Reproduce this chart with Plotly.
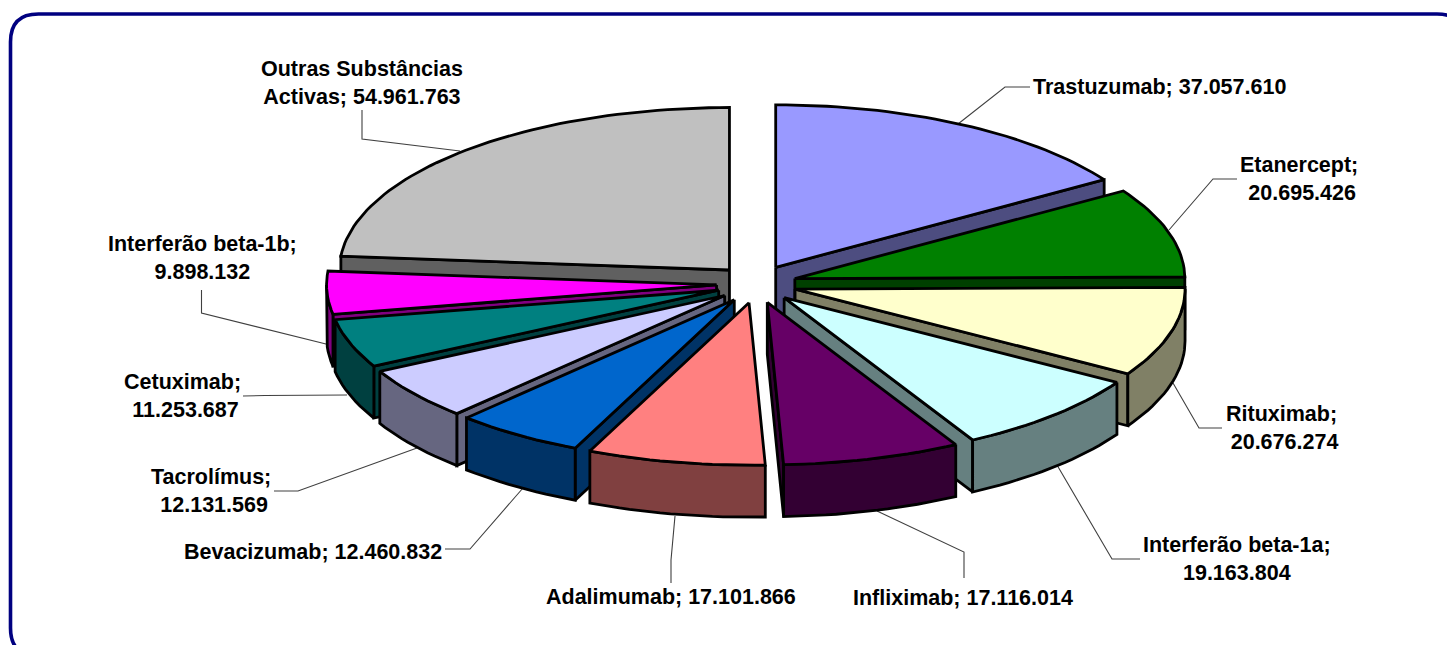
import math
import plotly.graph_objects as go

# ---- data (clockwise from 12 o'clock) ----
names = ["Trastuzumab", "Etanercept", "Rituximab", "Interferão beta-1a", "Infliximab",
         "Adalimumab", "Bevacizumab", "Tacrolímus", "Cetuximab", "Interferão beta-1b",
         "Outras Substâncias Activas"]
values = [37057610, 20695426, 20676274, 19163804, 17116014, 17101866,
          12460832, 12131569, 11253687, 9898132, 54961763]
top_colors = ["#9999FF", "#008000", "#FFFFCC", "#CCFFFF", "#660066", "#FF8080",
              "#0066CC", "#CCCCFF", "#008080", "#FF00FF", "#C0C0C0"]
wall_colors = ["#4D4D80", "#004000", "#808066", "#668080", "#330033", "#804040",
               "#003366", "#666680", "#004040", "#800080", "#606060"]

# label layout: text lines, anchor position in page pixels
label_lines = [
    ["{n}; {v}"], ["{n};&nbsp;", "{v}"], ["{n};&nbsp;", "{v}"], ["{n};", "{v}"], ["{n}; {v}"],
    ["{n}; {v}"], ["{n}; {v}"], ["{n};&nbsp;", "{v}"], ["{n};&nbsp;", "{v}"], ["{n};", "{v}"],
    ["Outras Substâncias", "Activas; {v}"],
]
label_pos = [(1159, 87), (1301.5, 179), (1284, 428), (1236.5, 559), (963, 598), (671, 597),
             (313, 552), (214, 491), (185, 395.5), (202, 257.5), (362, 83)]
leaders = [
    [(958, 124), (1005, 87), (1030, 87)],
    [(1169, 230), (1213, 179), (1237, 179)],
    [(1173, 383), (1199, 428), (1222, 428)],
    [(1057, 465), (1112, 559), (1140, 559)],
    [(877, 511), (964, 552), (964, 578)],
    [(675, 516), (671, 560), (671, 583)],
    [(523, 488), (470, 549), (445, 549)],
    [(417, 448), (298, 491), (274, 491)],
    [(347, 395), (265, 395.5), (243, 396)],
    [(328, 344.5), (201.5, 313), (201.5, 290)],
    [(460, 151), (362, 139), (362, 110)],
]

# ---- projection of the tilted pie ----
CX, CY = 756.5, 284
RX, RY = 390, 162.5
DEPTH = 52
EXPLODE_X, EXPLODE_Y = 40, 19
total = sum(values)


def proj(theta):
    return RX * math.sin(theta), -RY * math.cos(theta)


slices = []
cum = 0
for i, v in enumerate(values):
    t0 = cum / total * 2 * math.pi
    cum += v
    t1 = cum / total * 2 * math.pi
    mid = (t0 + t1) / 2
    slices.append(dict(i=i, t0=t0, t1=t1, mid=mid,
                       ax=CX + EXPLODE_X * math.sin(mid),
                       ay=CY - EXPLODE_Y * math.cos(mid)))


def arc(s, a, b):
    n = max(3, int((b - a) / math.radians(1.5)))
    pts = []
    for k in range(n + 1):
        t = a + (b - a) * k / n
        dx, dy = proj(t)
        pts.append((s["ax"] + dx, s["ay"] + dy))
    return pts


fig = go.Figure()


def poly(pts, color):
    xs = [p[0] for p in pts] + [pts[0][0]]
    ys = [p[1] for p in pts] + [pts[0][1]]
    fig.add_trace(go.Scatter(x=xs, y=ys, mode="lines", fill="toself", fillcolor=color,
                             line=dict(color="black", width=2.8), hoverinfo="skip",
                             showlegend=False))


for s in sorted(slices, key=lambda q: -math.cos(q["mid"])):
    i = s["i"]
    a = (s["ax"], s["ay"])
    top = [a] + arc(s, s["t0"], s["t1"])
    cx = sum(p[0] for p in top) / len(top)
    cy = sum(p[1] for p in top) / len(top)
    for t in (s["t0"], s["t1"]):
        dx, dy = proj(t)
        p = (a[0] + dx, a[1] + dy)
        side_c = dx * (cy - a[1]) - dy * (cx - a[0])
        side_d = dx * DEPTH
        if side_c * side_d < 0:  # wall faces the viewer
            poly([a, p, (p[0], p[1] + DEPTH), (a[0], a[1] + DEPTH)], wall_colors[i])
    lo = max(s["t0"], math.pi / 2)
    hi = min(s["t1"], 3 * math.pi / 2)
    if hi > lo:
        edge = arc(s, lo, hi)
        poly(edge + [(x, y + DEPTH) for x, y in reversed(edge)], wall_colors[i])
    poly(top, top_colors[i])

# ---- labels ----
for n, v, lines, (lx, ly) in zip(names, values, label_lines, label_pos):
    vs = f"{v:,}".replace(",", ".")
    text = "<br>".join("<b>" + l.format(n=n, v=vs) + "</b>" for l in lines)
    fig.add_annotation(x=lx, y=ly, text=text, showarrow=False, xref="x", yref="y",
                       font=dict(family="Liberation Sans", size=21.5, color="black"),
                       align="center", xanchor="center", yanchor="middle")

shapes = []
for path in leaders:
    d = "M" + " L".join(f"{x},{y}" for x, y in path)
    shapes.append(dict(type="path", path=d, xref="x", yref="y", layer="below",
                       line=dict(color="#404040", width=1.1)))
# rounded frame running off the page on the right and bottom
L, T, R, B, C = 10.5, 14, 1465, 656, 28
frame = (f"M{L},{B-C} L{L},{T+C} Q{L},{T} {L+C},{T} L{R-C},{T} Q{R},{T} {R},{T+C} "
         f"L{R},{B-C} Q{R},{B} {R-C},{B} L{L+C},{B} Q{L},{B} {L},{B-C} Z")
shapes.append(dict(type="path", path=frame, xref="x", yref="y", layer="below",
                   line=dict(color="#000080", width=3.6)))

fig.update_layout(
    width=1447, height=645, margin=dict(l=0, r=0, t=0, b=0),
    paper_bgcolor="white", plot_bgcolor="white", showlegend=False, shapes=shapes,
    xaxis=dict(range=[0, 1447], visible=False, fixedrange=True),
    yaxis=dict(range=[645, 0], visible=False, fixedrange=True),
)
fig.write_html("out.html", config={"displayModeBar": False},
               post_script="document.body.style.margin='0';document.body.style.overflow='hidden';")
